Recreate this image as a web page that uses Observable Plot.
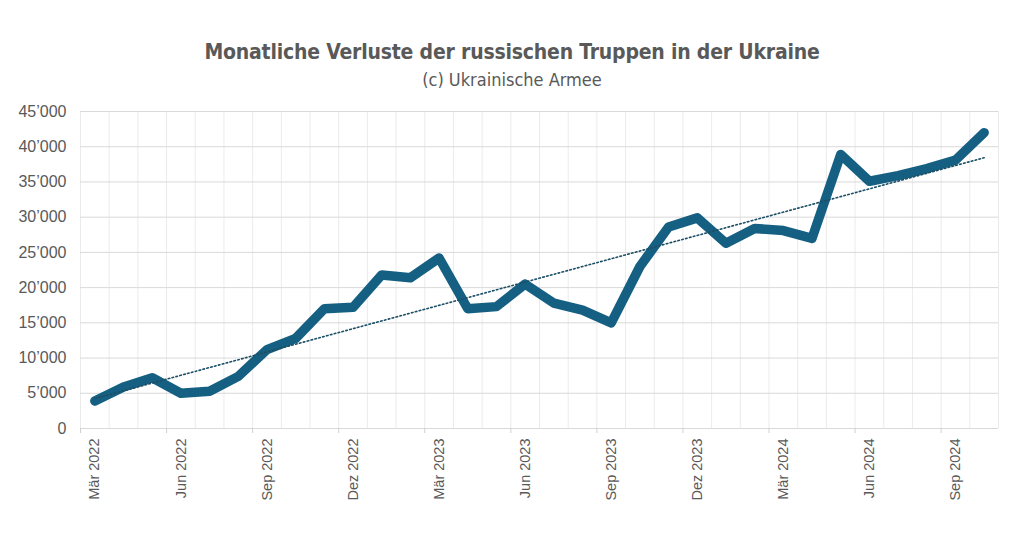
<!DOCTYPE html>
<html><head><meta charset="utf-8">
<script src="https://cdn.jsdelivr.net/npm/d3@7"></script>
<script src="https://cdn.jsdelivr.net/npm/@observablehq/plot@0.6"></script>
<style>
body{margin:0;background:#fff;}
#wrap{position:relative;width:1024px;height:536px;overflow:hidden;font-family:"Liberation Sans",Arial,sans-serif;color:#595959;}
#title{position:absolute;top:39px;left:0;width:1024px;text-align:center;font-family:"Liberation Sans Narrow","DejaVu Sans Condensed",Roboto,sans-serif;font-weight:bold;font-size:21px;line-height:26px;letter-spacing:-0.2px;}
#subtitle{position:absolute;top:70px;left:0;width:1024px;text-align:center;font-family:"Liberation Sans Narrow","DejaVu Sans Condensed",Roboto,sans-serif;font-size:18px;line-height:20px;}
#chart{position:absolute;top:95px;left:0;}
</style></head>
<body>
<div id="wrap">
  <div id="title">Monatliche Verluste der russischen Truppen in der Ukraine</div>
  <div id="subtitle">(c) Ukrainische Armee</div>
  <div id="chart"></div>
</div>
<script>
const months = ["Mär 2022","Apr 2022","Mai 2022","Jun 2022","Jul 2022","Aug 2022","Sep 2022","Okt 2022","Nov 2022","Dez 2022",
  "Jan 2023","Feb 2023","Mär 2023","Apr 2023","Mai 2023","Jun 2023","Jul 2023","Aug 2023","Sep 2023","Okt 2023","Nov 2023","Dez 2023",
  "Jan 2024","Feb 2024","Mär 2024","Apr 2024","Mai 2024","Jun 2024","Jul 2024","Aug 2024","Sep 2024","Okt 2024"];
const losses = [3900,5900,7200,5000,5300,7400,11200,12800,17000,17200,
  21800,21400,24200,17000,17300,20500,17800,16800,15000,23000,28600,29900,
  26300,28400,28100,27000,38900,35100,35900,36900,38100,42000];
const yTicks = [0,5000,10000,15000,20000,25000,30000,35000,40000,45000];
const labelEvery = 3;

const data = months.map((m, i) => ({i, month: m, value: losses[i]}));
const n = months.length;
const boundaries = d3.range(n + 1).map(k => k - 0.5);
const tickBoundaries = boundaries.filter((b, k) => k % labelEvery === 0 && k < n);
const labelIdx = d3.range(0, n, labelEvery);
const fmt = d => d3.format(",")(d).replace(/,/g, "\u2019");

const chart = Plot.plot({
  width: 1024,
  height: 441,
  marginLeft: 80,
  marginRight: 26,
  marginTop: 16,
  marginBottom: 108,
  style: {fontFamily: "'Liberation Sans', Arial, sans-serif", color: "#595959", background: "white"},
  x: {type: "linear", domain: [-0.5, n - 0.5]},
  y: {domain: [0, 45000]},
  marks: [
    Plot.ruleX(boundaries, {stroke: "#ebebeb", strokeWidth: 1}),
    Plot.ruleY(yTicks, {stroke: "#d9d9d9", strokeWidth: 1}),
    Plot.axisY({ticks: yTicks, tickFormat: fmt, tickSize: 0, tickPadding: 14, fontSize: 16, label: null}),
    Plot.axisX({ticks: tickBoundaries, tickFormat: () => "", tickSize: 5, stroke: "#d0d0d0", label: null}),
    Plot.axisX({ticks: labelIdx, tickFormat: i => months[i], tickSize: 0, tickPadding: 10, tickRotate: -90, fontSize: 14.5, label: null}),
    Plot.line(data, {x: "i", y: "value", stroke: "#156082", strokeWidth: 9.5, strokeLinejoin: "round", strokeLinecap: "round"}),
    Plot.linearRegressionY(data, {x: "i", y: "value", stroke: "#1c4f66", strokeWidth: 1.6, strokeDasharray: "1.6,2.4", ci: 0})
  ]
});
document.getElementById("chart").appendChild(chart);
</script>
</body></html>
